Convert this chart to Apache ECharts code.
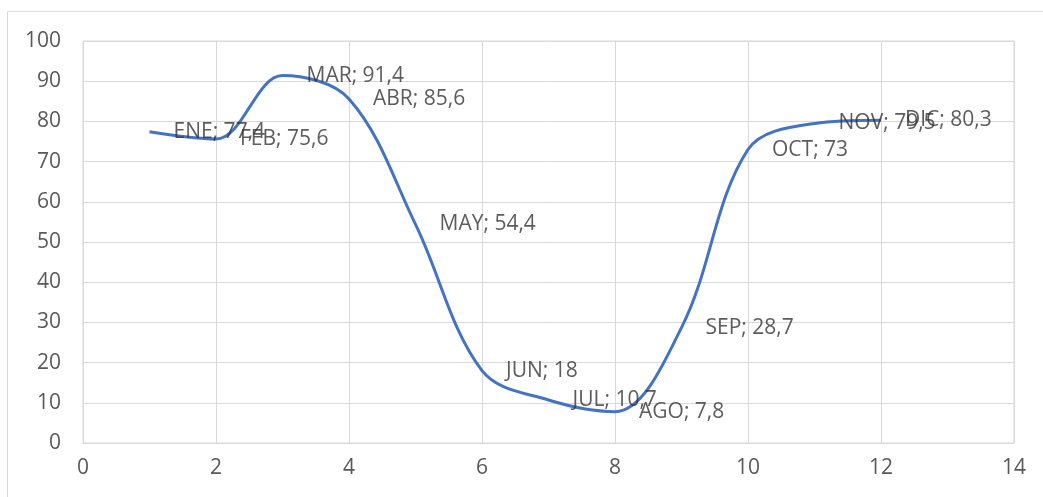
<!DOCTYPE html>
<html>
<head>
<meta charset="utf-8">
<script src="https://cdn.jsdelivr.net/npm/echarts@6/dist/echarts.min.js"></script>
<style>
html,body{margin:0;padding:0;background:#fff;}
#chart{width:1043px;height:497px;}
</style>
</head>
<body>
<div id="chart"></div>
<script>
const months = ['ENE','FEB','MAR','ABR','MAY','JUN','JUL','AGO','SEP','OCT','NOV','DIC'];
const xValues = [1,2,3,4,5,6,7,8,9,10,11,12];
const yValues = [77.4,75.6,91.4,85.6,54.4,18,10.7,7.8,28.7,73,79.5,80.3];
const xTicks = [0,2,4,6,8,10,12,14];
const yTicks = [0,10,20,30,40,50,60,70,80,90,100];

const chart = echarts.init(document.getElementById('chart'));
const data = months.map((m,i)=>({name:m, value:[xValues[i], yValues[i]]}));
const font = '"Open Sans", "Liberation Sans", sans-serif';
chart.setOption({
  animation:false,
  backgroundColor:'#fff',
  graphic:[{type:'rect', shape:{x:7.5,y:11.5,width:1060,height:500}, style:{fill:'none', stroke:'#d9d9d9', lineWidth:1}, silent:true, z:-10}],
  grid:{left:83,right:29,top:41,bottom:54,show:true,borderColor:'#d9d9d9',borderWidth:1},
  xAxis:{type:'value',min:xTicks[0],max:xTicks[xTicks.length-1],interval:2,
    axisLine:{show:false},axisTick:{show:false},
    splitLine:{show:true,lineStyle:{color:'#d9d9d9',width:1}},
    axisLabel:{color:'#595959',fontSize:21,fontFamily:font,margin:15}},
  yAxis:{type:'value',min:yTicks[0],max:yTicks[yTicks.length-1],interval:10,
    axisLine:{show:false},axisTick:{show:false},
    splitLine:{show:true,lineStyle:{color:'#d9d9d9',width:1}},
    axisLabel:{color:'#595959',fontSize:21,fontFamily:font,margin:22}},
  series:[
    {type:'line',data:data,smooth:0.35,symbol:'none',showSymbol:false,
      lineStyle:{color:'#4472C4',width:3},itemStyle:{color:'#4472C4'},z:2},
    {type:'scatter',data:data,symbolSize:0,itemStyle:{color:'transparent'},z:3,
      label:{show:true,position:'right',distance:24,color:'#333333',fontSize:21,fontFamily:font,
        formatter:p=>p.name+'; '+String(p.value[1]).replace('.',',')}}
  ]
});
</script>
</body>
</html>
